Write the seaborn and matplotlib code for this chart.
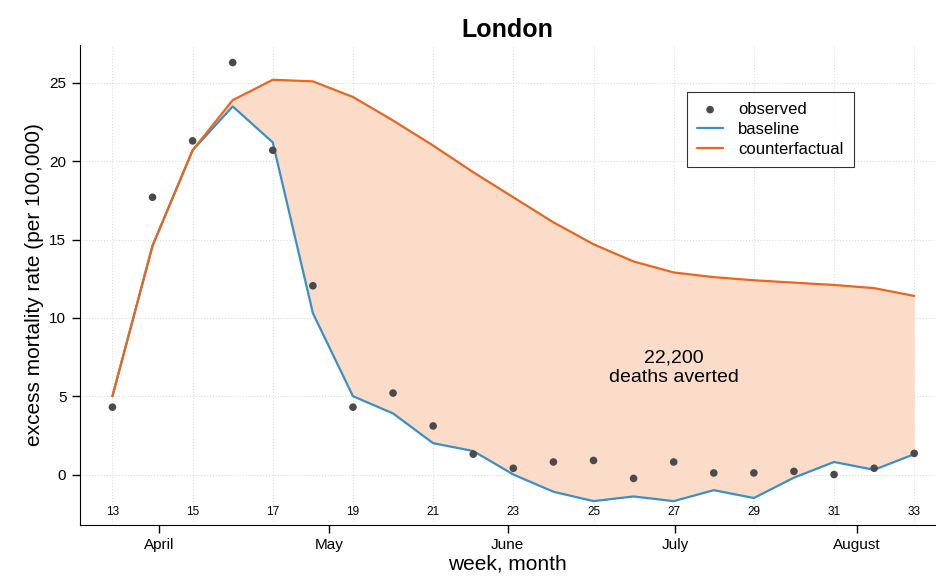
import numpy as np
import pandas as pd
import matplotlib
matplotlib.use("Agg")
import matplotlib.pyplot as plt
import seaborn as sns

weeks = list(range(13, 34))
observed = [4.3, 17.7, 21.3, 26.3, 20.7, 12.05, 4.3, 5.2, 3.1, 1.3, 0.4, 0.8, 0.9, -0.25, 0.8, 0.1, 0.1, 0.2, 0.0, 0.4, 1.35]
baseline = [5.0, 14.6, 20.7, 23.5, 21.2, 10.3, 5.0, 3.9, 2.0, 1.5, 0.0, -1.1, -1.7, -1.4, -1.7, -1.0, -1.5, -0.2, 0.8, 0.3, 1.3]
counterfactual = [5.0, 14.6, 20.7, 23.9, 25.2, 25.1, 24.1, 22.6, 21.0, 19.3, 17.7, 16.1, 14.7, 13.6, 12.9, 12.6, 12.4, 12.25, 12.1, 11.9, 11.4]
month_names = ["April", "May", "June", "July", "August"]
month_pos = [14.17, 18.4, 22.86, 27.03, 31.57]

df = pd.DataFrame({"week": weeks, "observed": observed, "baseline": baseline,
                   "counterfactual": counterfactual})

sns.set_style("white")
plt.rcParams['font.family'] = ['Liberation Sans', 'DejaVu Sans']
plt.rcParams['text.color'] = 'black'
plt.rcParams['axes.labelcolor'] = 'black'
plt.rcParams['xtick.color'] = 'black'
plt.rcParams['ytick.color'] = 'black'
fig, ax = plt.subplots(figsize=(9.36, 5.81), dpi=100)
fig.subplots_adjust(left=0.085, right=0.999, top=0.922, bottom=0.097)

ax.fill_between(df.week, df.baseline, df.counterfactual, color="#fadcc8", lw=0)
sns.scatterplot(data=df, x="week", y="observed", ax=ax, color="#4a4a4a", s=30,
                edgecolor="none", label="observed", zorder=4)
sns.lineplot(data=df, x="week", y="baseline", ax=ax, color="#3b8fc4", lw=1.6, label="baseline")
sns.lineplot(data=df, x="week", y="counterfactual", ax=ax, color="#e8661e", lw=1.6, label="counterfactual")

ax.set_xlim(12.18, 33.52)
ax.set_ylim(-3.2, 27.4)
ax.set_yticks([0, 5, 10, 15, 20, 25])
ax.set_xticks(month_pos)
ax.set_xticklabels(month_names, fontsize=11)
ax.tick_params(axis="both", direction="out", length=6, width=1, labelsize=11, bottom=True, left=True)
for w in range(13, 34, 2):
    ax.axvline(w, color="#dddddd", ls=":", lw=0.8, zorder=0)
    ax.text(w, -2.4, str(w), ha="center", va="center", fontsize=8.5)
for yv in [0, 5, 10, 15, 20, 25]:
    ax.axhline(yv, color="#dddddd", ls=":", lw=0.8, zorder=0)

for s in ["top", "right"]:
    ax.spines[s].set_visible(False)
ax.spines["left"].set_color("black")
ax.spines["bottom"].set_color("black")

ax.set_xlabel("week, month", fontsize=15, labelpad=2)
ax.set_ylabel("excess mortality rate (per 100,000)", fontsize=15)
ax.set_title("London", fontsize=18, fontweight="bold")
ax.text(27.0, 6.8, "22,200\ndeaths averted", ha="center", va="center", fontsize=14)

leg = ax.legend(loc="upper left", bbox_to_anchor=(0.7, 0.92), fontsize=12,
                frameon=True, fancybox=False, edgecolor="black", borderpad=0.6,
                handlelength=1.6, labelspacing=0.3, handletextpad=0.9)
leg.get_frame().set_linewidth(0.8)

fig.savefig("out.png", dpi=100)
